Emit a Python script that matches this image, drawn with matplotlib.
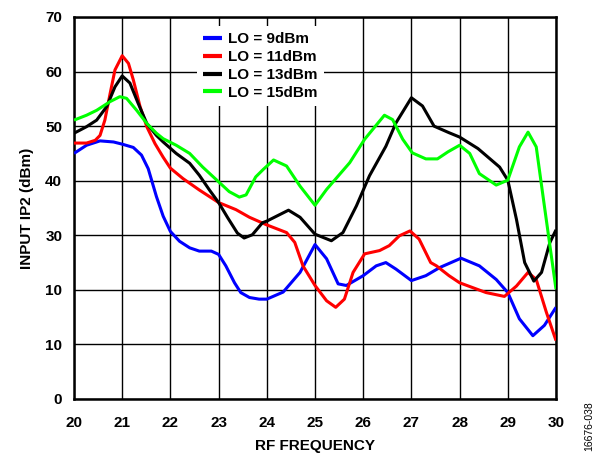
import matplotlib
matplotlib.use("Agg")
import matplotlib.pyplot as plt

plt.rcParams['font.family'] = ['Liberation Sans', 'DejaVu Sans']

x_lo9 = [20.0, 20.26, 20.54, 20.82, 21.0, 21.23, 21.40, 21.54, 21.71, 21.85, 22.0, 22.19, 22.40, 22.60, 22.85, 23.0, 23.15, 23.33, 23.46, 23.64, 23.84, 24.0, 24.34, 24.69, 25.0, 25.24, 25.48, 25.65, 26.0, 26.27, 26.47, 26.68, 27.0, 27.30, 27.59, 28.03, 28.41, 28.76, 29.0, 29.24, 29.52, 29.76, 30.0]
y_lo9 = [45.0, 46.5, 47.3, 47.1, 46.7, 46.1, 44.7, 42.2, 37.1, 33.5, 30.7, 28.9, 27.7, 27.1, 27.1, 26.5, 24.4, 21.3, 19.5, 18.6, 18.3, 18.3, 19.6, 23.2, 28.3, 25.7, 21.1, 20.8, 22.6, 24.4, 25.0, 23.8, 21.7, 22.6, 24.1, 25.8, 24.4, 21.9, 19.5, 14.7, 11.6, 13.5, 16.8]

x_lo11 = [20.0, 20.26, 20.44, 20.54, 20.64, 20.75, 20.85, 21.0, 21.13, 21.23, 21.37, 21.51, 21.68, 21.85, 22.0, 22.26, 22.60, 23.0, 23.36, 23.64, 24.0, 24.41, 24.58, 24.75, 25.0, 25.24, 25.43, 25.61, 25.79, 26.03, 26.34, 26.54, 26.75, 26.97, 27.16, 27.40, 27.52, 27.78, 28.0, 28.55, 28.93, 29.18, 29.42, 29.59, 29.80, 30.0]
y_lo11 = [46.9, 46.9, 47.4, 48.3, 51.1, 56.0, 60.3, 62.9, 61.5, 58.5, 53.6, 49.9, 46.8, 44.3, 42.3, 40.4, 38.3, 36.0, 34.7, 33.3, 31.9, 30.5, 28.7, 24.4, 20.8, 18.0, 16.8, 18.3, 23.2, 26.6, 27.2, 28.1, 29.9, 30.8, 29.3, 25.0, 24.4, 22.6, 21.3, 19.5, 18.8, 20.7, 23.2, 21.9, 15.9, 10.7]

x_lo13 = [20.0, 20.26, 20.47, 20.68, 20.85, 21.0, 21.16, 21.33, 21.51, 21.71, 21.85, 22.12, 22.40, 22.60, 22.81, 23.0, 23.19, 23.39, 23.53, 23.70, 23.91, 24.0, 24.45, 24.69, 25.0, 25.34, 25.58, 25.86, 26.13, 26.47, 26.68, 27.0, 27.23, 27.47, 27.78, 28.0, 28.38, 28.83, 29.0, 29.18, 29.35, 29.54, 29.70, 29.87, 30.0]
y_lo13 = [48.7, 49.9, 51.1, 53.6, 57.2, 59.2, 57.9, 54.2, 50.5, 48.3, 47.1, 45.0, 43.2, 41.0, 38.3, 36.0, 33.2, 30.4, 29.5, 30.1, 32.3, 32.6, 34.6, 33.3, 30.2, 29.0, 30.5, 35.4, 40.9, 46.3, 50.6, 55.2, 53.7, 50.0, 48.8, 48.0, 45.9, 42.5, 40.1, 32.9, 25.0, 21.6, 23.2, 28.6, 31.0]

x_lo15 = [20.0, 20.26, 20.47, 20.75, 20.95, 21.09, 21.30, 21.51, 21.71, 21.85, 22.12, 22.40, 22.67, 23.0, 23.22, 23.43, 23.57, 23.77, 23.93, 24.14, 24.41, 24.69, 25.0, 25.24, 25.72, 26.03, 26.44, 26.61, 26.82, 27.02, 27.30, 27.54, 27.76, 28.0, 28.21, 28.41, 28.76, 29.0, 29.24, 29.42, 29.59, 29.76, 30.0]
y_lo15 = [51.1, 52.0, 52.9, 54.5, 55.4, 55.1, 52.9, 50.5, 48.7, 47.7, 46.5, 45.0, 42.5, 39.8, 38.0, 37.0, 37.4, 40.7, 42.1, 43.8, 42.7, 39.0, 35.5, 38.4, 43.3, 47.6, 52.0, 51.2, 47.6, 45.1, 44.0, 44.0, 45.3, 46.5, 45.0, 41.3, 39.2, 40.1, 46.2, 48.9, 46.2, 35.3, 20.1]

labels = ['LO = 9dBm', 'LO = 11dBm', 'LO = 13dBm', 'LO = 15dBm']
colors = ['#0000FF', '#FF0000', '#000000', '#00FF00']

x_ticks = [20, 21, 22, 23, 24, 25, 26, 27, 28, 29, 30]
y_ticks = [0, 10, 20, 30, 40, 50, 60, 70]
y_ticklabels = ['0', '10', '10', '30', '40', '50', '60', '70']

fig = plt.figure(figsize=(6.10, 4.55), dpi=100)
ax = fig.add_axes([74/610, 1-399/455, (556-74)/610, (399-17)/455])

series = [(x_lo9, y_lo9), (x_lo11, y_lo11), (x_lo13, y_lo13), (x_lo15, y_lo15)]
for (xs, ys), lab, c in zip(series, labels, colors):
    ax.plot(xs, ys, color=c, lw=2.2, label=lab, solid_joinstyle='round',
            solid_capstyle='butt', zorder=3)

ax.set_xlim(20, 30)
ax.set_ylim(0, 70)
ax.set_xticks(x_ticks)
ax.set_yticks(y_ticks)
ax.set_yticklabels(y_ticklabels)
ax.grid(True, color='black', lw=1.0)
ax.set_axisbelow(True)
ax.tick_params(length=0, labelsize=11)
ax.tick_params(axis='x', pad=12)
ax.tick_params(axis='y', pad=8.5)
for lbl in ax.get_xticklabels() + ax.get_yticklabels():
    lbl.set_fontweight('bold')
for s in ax.spines.values():
    s.set_linewidth(1.8)

ax.set_xlabel('RF FREQUENCY', fontsize=11, fontweight='bold', labelpad=7)
ax.set_ylabel('INPUT IP2 (dBm)', fontsize=11, fontweight='bold', labelpad=8)

leg = ax.legend(loc='upper left', bbox_to_anchor=(0.255, 0.976), frameon=True,
                prop={'weight': 'bold', 'size': 11}, handlelength=1.25,
                labelspacing=0.25, borderpad=0.4, handletextpad=0.4, borderaxespad=0)
leg.get_frame().set_facecolor('white')
leg.get_frame().set_edgecolor('none')
leg.get_frame().set_alpha(1)
leg.get_frame().set_boxstyle('square', pad=0)
for h in leg.legend_handles:
    h.set_linewidth(3.0)

fig.text(589/610, 1-426/455, '16676-038', rotation=90, fontsize=7.5, ha='center', va='center')

fig.savefig('out.png', dpi=100)
